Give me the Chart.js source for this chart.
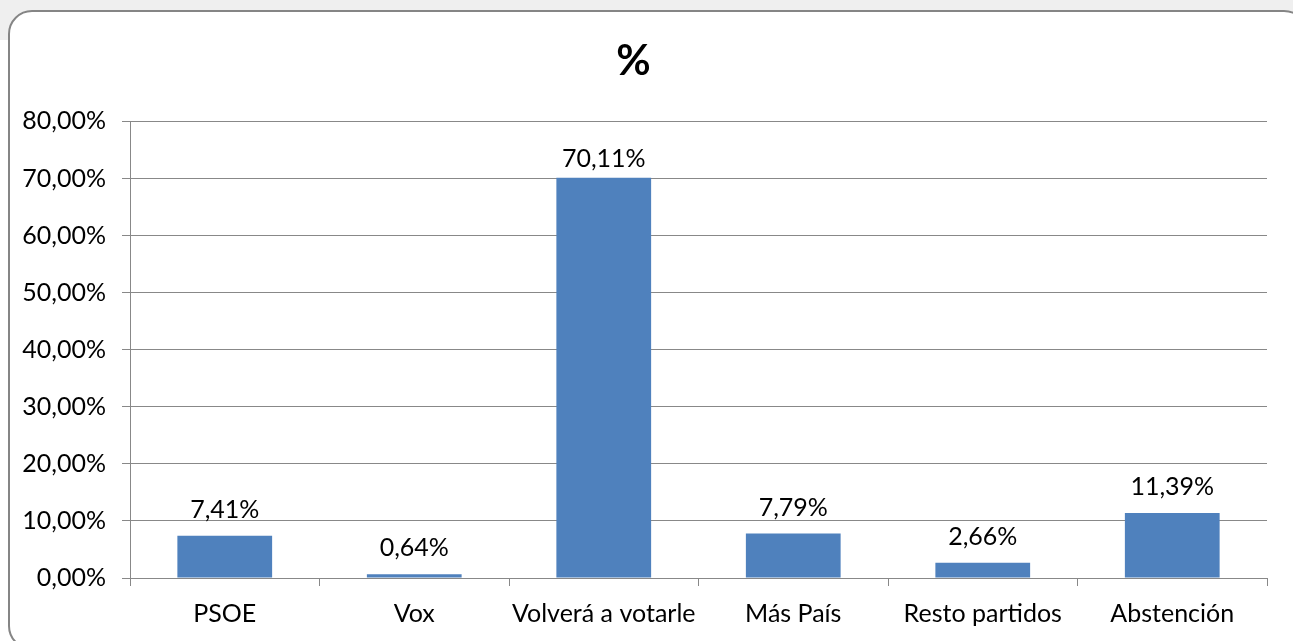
<!DOCTYPE html>
<html><head><meta charset="utf-8">
<script src="https://cdn.jsdelivr.net/npm/chart.js@4.4.1/dist/chart.umd.min.js"></script>
<style>
html,body{margin:0;padding:0;width:1293px;height:641px;overflow:hidden;background:#fff;}
#strip{position:absolute;left:0;top:0;width:1293px;height:40px;background:#efefef;}
#frame{position:absolute;left:8px;top:10px;width:1300px;height:640px;box-sizing:border-box;border:2px solid #858585;border-radius:24px;background:#fff;}
#wrap{position:absolute;left:0;top:0;width:1293px;height:641px;}
</style></head>
<body>
<div id="strip"></div>
<div id="frame"></div>
<div id="wrap"><canvas id="c" width="1293" height="641"></canvas></div>
<script>
const categories = ["PSOE", "Vox", "Volverá a votarle", "Más País", "Resto partidos", "Abstención"];
const values = [7.41, 0.64, 70.11, 7.79, 2.66, 11.39];
const yTicks = [0, 10, 20, 30, 40, 50, 60, 70, 80];
const title = "%";

const fmt = v => v.toFixed(2).replace('.', ',') + '%';
const FONT = 'Lato, "Open Sans", sans-serif';

const labelPlugin = {
  id: 'vals',
  afterDatasetsDraw(chart) {
    const ctx = chart.ctx;
    const meta = chart.getDatasetMeta(0);
    const top = chart.chartArea.top;
    ctx.save();
    ctx.font = '25px ' + FONT;
    ctx.fillStyle = '#000';
    ctx.textAlign = 'center';
    ctx.textBaseline = 'alphabetic';
    meta.data.forEach((bar, i) => {
      const y = Math.max(bar.y - 18, top + 46);
      ctx.fillText(fmt(values[i]), bar.x, y);
    });
    ctx.restore();
  }
};

new Chart(document.getElementById('c'), {
  type: 'bar',
  data: {
    labels: categories,
    datasets: [{
      data: values,
      backgroundColor: '#4f81bd',
      barPercentage: 0.5,
      categoryPercentage: 1.0
    }]
  },
  options: {
    responsive: false,
    animation: false,
    devicePixelRatio: 1,
    layout: { padding: { left: 0, right: 26, top: 0, bottom: 0 } },
    plugins: {
      legend: { display: false },
      tooltip: { enabled: false },
      title: {
        display: true,
        text: title,
        color: '#000',
        font: { family: FONT, size: 42, weight: 'bold' },
        padding: { top: 36, bottom: 35 }
      }
    },
    scales: {
      x: {
        offset: true,
        grid: { display: true, drawOnChartArea: false, drawTicks: true, tickLength: 8, color: '#888', offset: true },
        border: { display: true, color: '#888', width: 1 },
        ticks: { color: '#000', font: { family: FONT, size: 25 }, padding: 13, maxRotation: 0, autoSkip: false },
        afterFit(s) { s.height = 63; }
      },
      y: {
        min: 0, max: 80,
        afterBuildTicks(s) { s.ticks = yTicks.map(v => ({ value: v })); },
        grid: { color: '#888', drawTicks: true, tickLength: 8 },
        border: { display: true, color: '#888', width: 1 },
        ticks: { color: '#000', font: { family: FONT, size: 25 }, padding: 16, callback: v => fmt(v) },
        afterFit(s) { s.width = 130; }
      }
    }
  },
  plugins: [labelPlugin]
});
</script>
</body></html>
